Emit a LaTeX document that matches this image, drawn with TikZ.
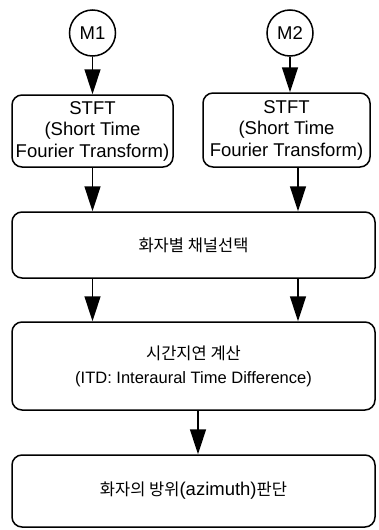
\documentclass[tikz,border=0pt]{standalone}
\usepackage{fontspec}
\setmainfont{Liberation Sans}
\newfontfamily\krfont{Noto Sans CJK KR}
\usetikzlibrary{arrows.meta, positioning, calc}
\newcommand\ko[1]{{\krfont\fontsize{16.5}{21}\selectfont #1}}

\begin{document}
\begin{tikzpicture}[x=1pt, y=-1pt, line width=1.5pt,
    every node/.style={draw, font=\fontsize{18.5}{21.5}\selectfont, align=center, inner sep=0pt},
    mic/.style={circle, minimum size=46pt},
    block/.style={rounded corners=10pt, minimum height=#1},
    arr/.style={-{Triangle[length=25pt, width=16pt]}}]
    \useasboundingbox (0,0) rectangle (378,530);
    \node[mic] (m1) at (92.5,33) {M1};
    \node[mic] (m2) at (290,33) {M2};
    \node[block=72pt, minimum width=161pt] (stft1) at (92.5,131) {STFT\\(Short Time\\Fourier Transform)};
    \node[block=74pt, minimum width=167pt] (stft2) at (286.5,130) {STFT\\(Short Time\\Fourier Transform)};
    \node[block=66pt, minimum width=363pt] (chan) at (193.5,245) {\ko{화자별 채널선택}};
    \node[block=88pt, minimum width=363pt, font=\fontsize{16.5}{24}\selectfont] (itd) at (193.5,366) {\ko{시간지연 계산}\\(ITD: Interaural Time Difference)};
    \node[block=72pt, minimum width=363pt] (judge) at (193.5,491) {\ko{화자의 방위}(azimuth)\ko{판단}};
    % arrows
    \draw[arr] (m1) -- (stft1);
    \draw[arr] (m2.south) -- (m2.south |- stft2.north);
    \draw[arr] (stft1.south) -- (stft1.south |- chan.north);
    \draw[arr] ([xshift=11.5pt]stft2.south) coordinate (r) -- (r |- chan.north);
    \draw[arr] (chan.south -| stft1.south) -- (stft1.south |- itd.north);
    \draw[arr] (chan.south -| r) -- (r |- itd.north);
    \draw[arr] ([xshift=4.5pt]itd.south) coordinate (c) -- (c |- judge.north);
\end{tikzpicture}
\end{document}
